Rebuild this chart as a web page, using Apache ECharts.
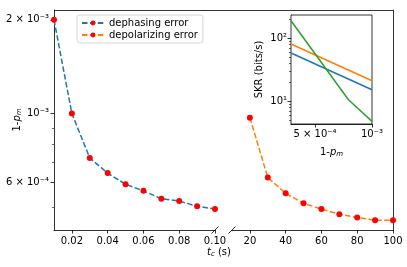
<!DOCTYPE html>
<html><head><meta charset="utf-8">
<script src="https://cdn.jsdelivr.net/npm/echarts@6/dist/echarts.min.js"></script>
<style>html,body{margin:0;padding:0;background:#fff}#c{width:407px;height:267px}</style>
</head><body><div id="c"></div>
<script>
// ---- data ----
const dephasingX = [0.01,0.02,0.03,0.04,0.05,0.06,0.07,0.08,0.09,0.10];
const dephasingY = [2.0e-3,1.0e-3,7.2e-4,6.44e-4,5.93e-4,5.65e-4,5.33e-4,5.24e-4,5.04e-4,4.94e-4];
const depolarX = [20,30,40,50,60,70,80,90,100];
const depolarY = [9.7e-4,6.23e-4,5.55e-4,5.15e-4,4.94e-4,4.75e-4,4.64e-4,4.55e-4,4.55e-4];
const insetLineX = [3.73e-4,1e-3];
const skrBlue = [58,15.3];
const skrOrange = [80.4,21.2];
const insetGreenX = [3.73e-4,7.51e-4,1e-3];
const skrGreen = [187,10.6,4.84];
const mainYTicks = [2e-3,1e-3,6e-4];
const mainYTickLabels = ['2 × 10⁻³','10⁻³','6 × 10⁻⁴'];
const mainYMinor = [5e-4,7e-4,8e-4,9e-4];
const leftXTicks = [0.02,0.04,0.06,0.08,0.10];
const rightXTicks = [20,40,60,80,100];
const insetXTicks = [5e-4,1e-3];
const insetXTickLabels = ['5 × 10⁻⁴','10⁻³'];
const insetYTicks = [10,100];
const insetYTickLabels = ['10¹','10²'];
const insetYMinor = [5,6,7,8,9,20,30,40,50,60,70,80,90,200];

const L = Math.log10;
const FONT = 'DejaVu Sans';
const FS = 10;
function lookup(vals, labels){
  return function(v){
    for (let i=0;i<vals.length;i++){ if (Math.abs(L(vals[i])-v)<1e-6) return labels[i]; }
    return '';
  };
}
const axisLine = {show:true, lineStyle:{color:'#000', width:0.8}};
const lbl = {color:'#000', fontFamily:FONT, fontSize:FS};
const mainYMin = L(4.23e-4), mainYMax = L(2.15e-3);
const subRich = {
  n:{fontSize:FS, fontFamily:FONT, color:'#000'},
  i:{fontSize:FS, fontFamily:FONT, fontStyle:'italic', color:'#000'},
  s:{fontSize:7, fontFamily:FONT, fontStyle:'italic', color:'#000', verticalAlign:'bottom', padding:[4,0,0,0]}
};

const chart = echarts.init(document.getElementById('c'), null, {renderer:'canvas'});
chart.setOption({
  animation:false,
  backgroundColor:'#fff',
  textStyle:{fontFamily:FONT},
  grid:[
    {left:54, top:10, width:161, height:220, show:false, containLabel:false, outerBoundsMode:'none'},
    {left:232, top:10, width:161, height:220, show:false, containLabel:false, outerBoundsMode:'none'},
    {left:291, top:15, width:81, height:109, show:true, backgroundColor:'#fff', borderColor:'#000', borderWidth:0.8, z:5, containLabel:false, outerBoundsMode:'none'}
  ],
  legend:{
    data:['dephasing error','depolarizing error'],
    orient:'vertical', left:77, top:15,
    itemWidth:22, itemHeight:6, itemGap:2,
    padding:[3,5,3,4],
    backgroundColor:'rgba(255,255,255,0.8)', borderColor:'#cccccc', borderWidth:0.8, borderRadius:2.5,
    textStyle:{color:'#000', fontFamily:FONT, fontSize:FS}
  },
  xAxis:[
    {gridIndex:0, type:'value', min:0.01, max:0.10, axisLine:axisLine,
     axisTick:{customValues:leftXTicks, length:3.5, lineStyle:{color:'#000',width:0.8}},
     axisLabel:Object.assign({customValues:leftXTicks, margin:6, formatter:v=>v.toFixed(2)}, lbl),
     splitLine:{show:false}},
    {gridIndex:1, type:'value', min:10, max:100, axisLine:axisLine,
     axisTick:{customValues:rightXTicks, length:3.5, lineStyle:{color:'#000',width:0.8}},
     axisLabel:Object.assign({customValues:rightXTicks, margin:6, formatter:v=>String(Math.round(v))}, lbl),
     splitLine:{show:false}},
    {gridIndex:2, type:'value', min:L(3.73e-4), max:-3, axisLine:axisLine,
     axisTick:{customValues:insetXTicks.map(L), length:3.5, lineStyle:{color:'#000',width:0.8}},
     axisLabel:Object.assign({customValues:insetXTicks.map(L), margin:5, formatter:lookup(insetXTicks, insetXTickLabels)}, lbl),
     splitLine:{show:false},
     name:'{n|1-}{i|p}{s|m}', nameLocation:'middle', nameGap:23, nameMoveOverlap:false,
     nameTextStyle:{color:'#000', fontFamily:FONT, fontSize:FS, rich:subRich}}
  ],
  yAxis:[
    {gridIndex:0, type:'value', position:'left', min:mainYMin, max:mainYMax, axisLine:axisLine,
     axisTick:{customValues:mainYTicks.map(L), length:3.5, lineStyle:{color:'#000',width:0.8}},
     axisLabel:Object.assign({customValues:mainYTicks.map(L), margin:5, formatter:lookup(mainYTicks, mainYTickLabels)}, lbl),
     splitLine:{show:false},
     name:'{n|1-}{i|p}{s|m}', nameLocation:'middle', nameGap:31, nameRotate:90, nameMoveOverlap:false,
     nameTextStyle:{color:'#000', fontFamily:FONT, fontSize:FS, rich:subRich}},
    {gridIndex:0, type:'value', position:'left', min:mainYMin, max:mainYMax, axisLine:{show:false},
     axisTick:{customValues:mainYMinor.map(L), length:2, lineStyle:{color:'#000',width:0.6}},
     axisLabel:{show:false}, splitLine:{show:false}},
    {gridIndex:1, type:'value', position:'right', min:mainYMin, max:mainYMax, axisLine:axisLine,
     axisTick:{show:false}, axisLabel:{show:false}, splitLine:{show:false}},
    {gridIndex:2, type:'value', position:'left', min:L(4.4), max:L(231), axisLine:axisLine,
     axisTick:{customValues:insetYTicks.map(L), length:3.5, lineStyle:{color:'#000',width:0.8}},
     axisLabel:Object.assign({customValues:insetYTicks.map(L), margin:4, formatter:lookup(insetYTicks, insetYTickLabels)}, lbl),
     splitLine:{show:false},
     name:'SKR (bits/s)', nameLocation:'middle', nameGap:27, nameRotate:90, nameMoveOverlap:false,
     nameTextStyle:{color:'#000', fontFamily:FONT, fontSize:FS}},
    {gridIndex:2, type:'value', position:'left', min:L(4.4), max:L(231), axisLine:{show:false},
     axisTick:{customValues:insetYMinor.map(L), length:2, lineStyle:{color:'#000',width:0.6}},
     axisLabel:{show:false}, splitLine:{show:false}}
  ],
  series:[
    {name:'dephasing error', type:'line', xAxisIndex:0, yAxisIndex:0,
     data:dephasingX.map((x,i)=>[x, L(dephasingY[i])]),
     lineStyle:{color:'#1f77b4', width:1.5, type:[5.5,2.4]},
     symbol:'circle', symbolSize:6, itemStyle:{color:'#ff0000'}, z:3},
    {name:'depolarizing error', type:'line', xAxisIndex:1, yAxisIndex:2,
     data:depolarX.map((x,i)=>[x, L(depolarY[i])]),
     lineStyle:{color:'#ff7f0e', width:1.5, type:[5.5,2.4]},
     symbol:'circle', symbolSize:6, itemStyle:{color:'#ff0000'}, z:3},
    {name:'skr1', type:'line', xAxisIndex:2, yAxisIndex:3, z:10,
     data:insetLineX.map((x,i)=>[L(x), L(skrBlue[i])]),
     lineStyle:{color:'#1f77b4', width:1.5}, symbol:'none'},
    {name:'skr2', type:'line', xAxisIndex:2, yAxisIndex:3, z:10,
     data:insetLineX.map((x,i)=>[L(x), L(skrOrange[i])]),
     lineStyle:{color:'#ff7f0e', width:1.5}, symbol:'none'},
    {name:'skr3', type:'line', xAxisIndex:2, yAxisIndex:3, z:10,
     data:insetGreenX.map((x,i)=>[L(x), L(skrGreen[i])]),
     lineStyle:{color:'#2ca02c', width:1.5}, symbol:'none'}
  ],
  graphic:[
    {type:'line', shape:{x1:54, y1:10.5, x2:393, y2:10.5}, style:{stroke:'#000', lineWidth:0.8}},
    {type:'line', shape:{x1:211.5, y1:233.5, x2:218.5, y2:226.5}, style:{stroke:'#000', lineWidth:0.8}},
    {type:'line', shape:{x1:228.5, y1:233.5, x2:235.5, y2:226.5}, style:{stroke:'#000', lineWidth:0.8}},
    {type:'text', left:207, top:247, style:{
      text:'{i|t}{s|c}{n| (s)}', fill:'#000', font:FS+'px '+FONT,
      rich:{
        i:{fontSize:FS, fontFamily:FONT, fontStyle:'italic', fill:'#000'},
        s:{fontSize:7, fontFamily:FONT, fontStyle:'italic', fill:'#000', verticalAlign:'bottom', padding:[4,0,0,0]},
        n:{fontSize:FS, fontFamily:FONT, fill:'#000'}
      }}}
  ]
});
</script></body></html>
